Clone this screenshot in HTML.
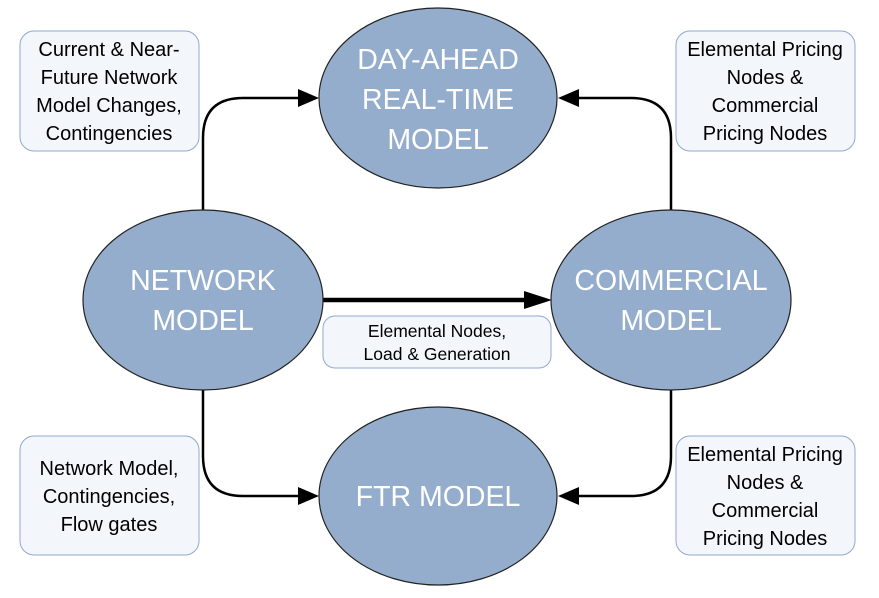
<!DOCTYPE html>
<html><head><meta charset="utf-8"><style>
body{margin:0;background:#fff;}
svg text{font-family:"Liberation Sans",sans-serif;}
</style></head><body>
<svg width="879" height="593" viewBox="0 0 879 593" xmlns="http://www.w3.org/2000/svg">
<g fill="none" stroke="#000" stroke-width="2.5">
<path d="M203,210 V138 Q203,98 243,98 H300"/>
<path d="M298,89 L319,98 L298,107z" fill="#000" stroke="none"/>
<path d="M671,210 V138 Q671,98 631,98 H578"/>
<path d="M579,89 L558,98 L579,107z" fill="#000" stroke="none"/>
<path d="M203,390 V456 Q203,496 243,496 H300"/>
<path d="M298,487 L319,496 L298,505z" fill="#000" stroke="none"/>
<path d="M671,390 V456 Q671,496 631,496 H578"/>
<path d="M579,487 L558,496 L579,505z" fill="#000" stroke="none"/>
<path d="M322,300 H528" stroke-width="4.5"/>
<path d="M524,291 L552,300 L524,309z" fill="#000" stroke="none"/>
</g>
<g fill="#95adcc" stroke="#222" stroke-width="1.2">
<ellipse cx="438" cy="98" rx="119" ry="90"/>
<ellipse cx="203" cy="300" rx="120" ry="90"/>
<ellipse cx="671" cy="300" rx="120" ry="90"/>
<ellipse cx="438" cy="496" rx="119" ry="89"/>
</g>
<g fill="#fff" font-size="28.5" text-anchor="middle">
<text x="438" y="69">DAY-AHEAD</text><text x="438" y="109">REAL-TIME</text><text x="438" y="149">MODEL</text>
<text x="203" y="290">NETWORK</text><text x="203" y="330">MODEL</text>
<text x="671" y="290">COMMERCIAL</text><text x="671" y="330">MODEL</text>
<text x="438" y="506">FTR MODEL</text>
</g>
<g fill="#f3f6fb" stroke="#8faad0" stroke-width="1">
<rect x="20" y="31" width="179" height="120" rx="14"/>
<rect x="676" y="31" width="179" height="120" rx="14"/>
<rect x="20" y="436" width="179" height="119" rx="14"/>
<rect x="676" y="436" width="179" height="119" rx="14"/>
<rect x="323" y="316" width="228" height="52" rx="12"/>
</g>
<g fill="#000" font-size="20" text-anchor="middle">
<text x="109" y="56">Current &amp; Near-</text><text x="109" y="84">Future Network</text><text x="109" y="112">Model Changes,</text><text x="109" y="140">Contingencies</text>
<text x="765" y="56">Elemental Pricing</text><text x="765" y="84">Nodes &amp;</text><text x="765" y="112">Commercial</text><text x="765" y="140">Pricing Nodes</text>
<text x="109" y="475">Network Model,</text><text x="109" y="503">Contingencies,</text><text x="109" y="531">Flow gates</text>
<text x="765" y="461">Elemental Pricing</text><text x="765" y="489">Nodes &amp;</text><text x="765" y="517">Commercial</text><text x="765" y="545">Pricing Nodes</text>
<text x="437" y="337" font-size="17.5">Elemental Nodes,</text><text x="437" y="360" font-size="17.5">Load &amp; Generation</text>
</g>
</svg>
</body></html>
